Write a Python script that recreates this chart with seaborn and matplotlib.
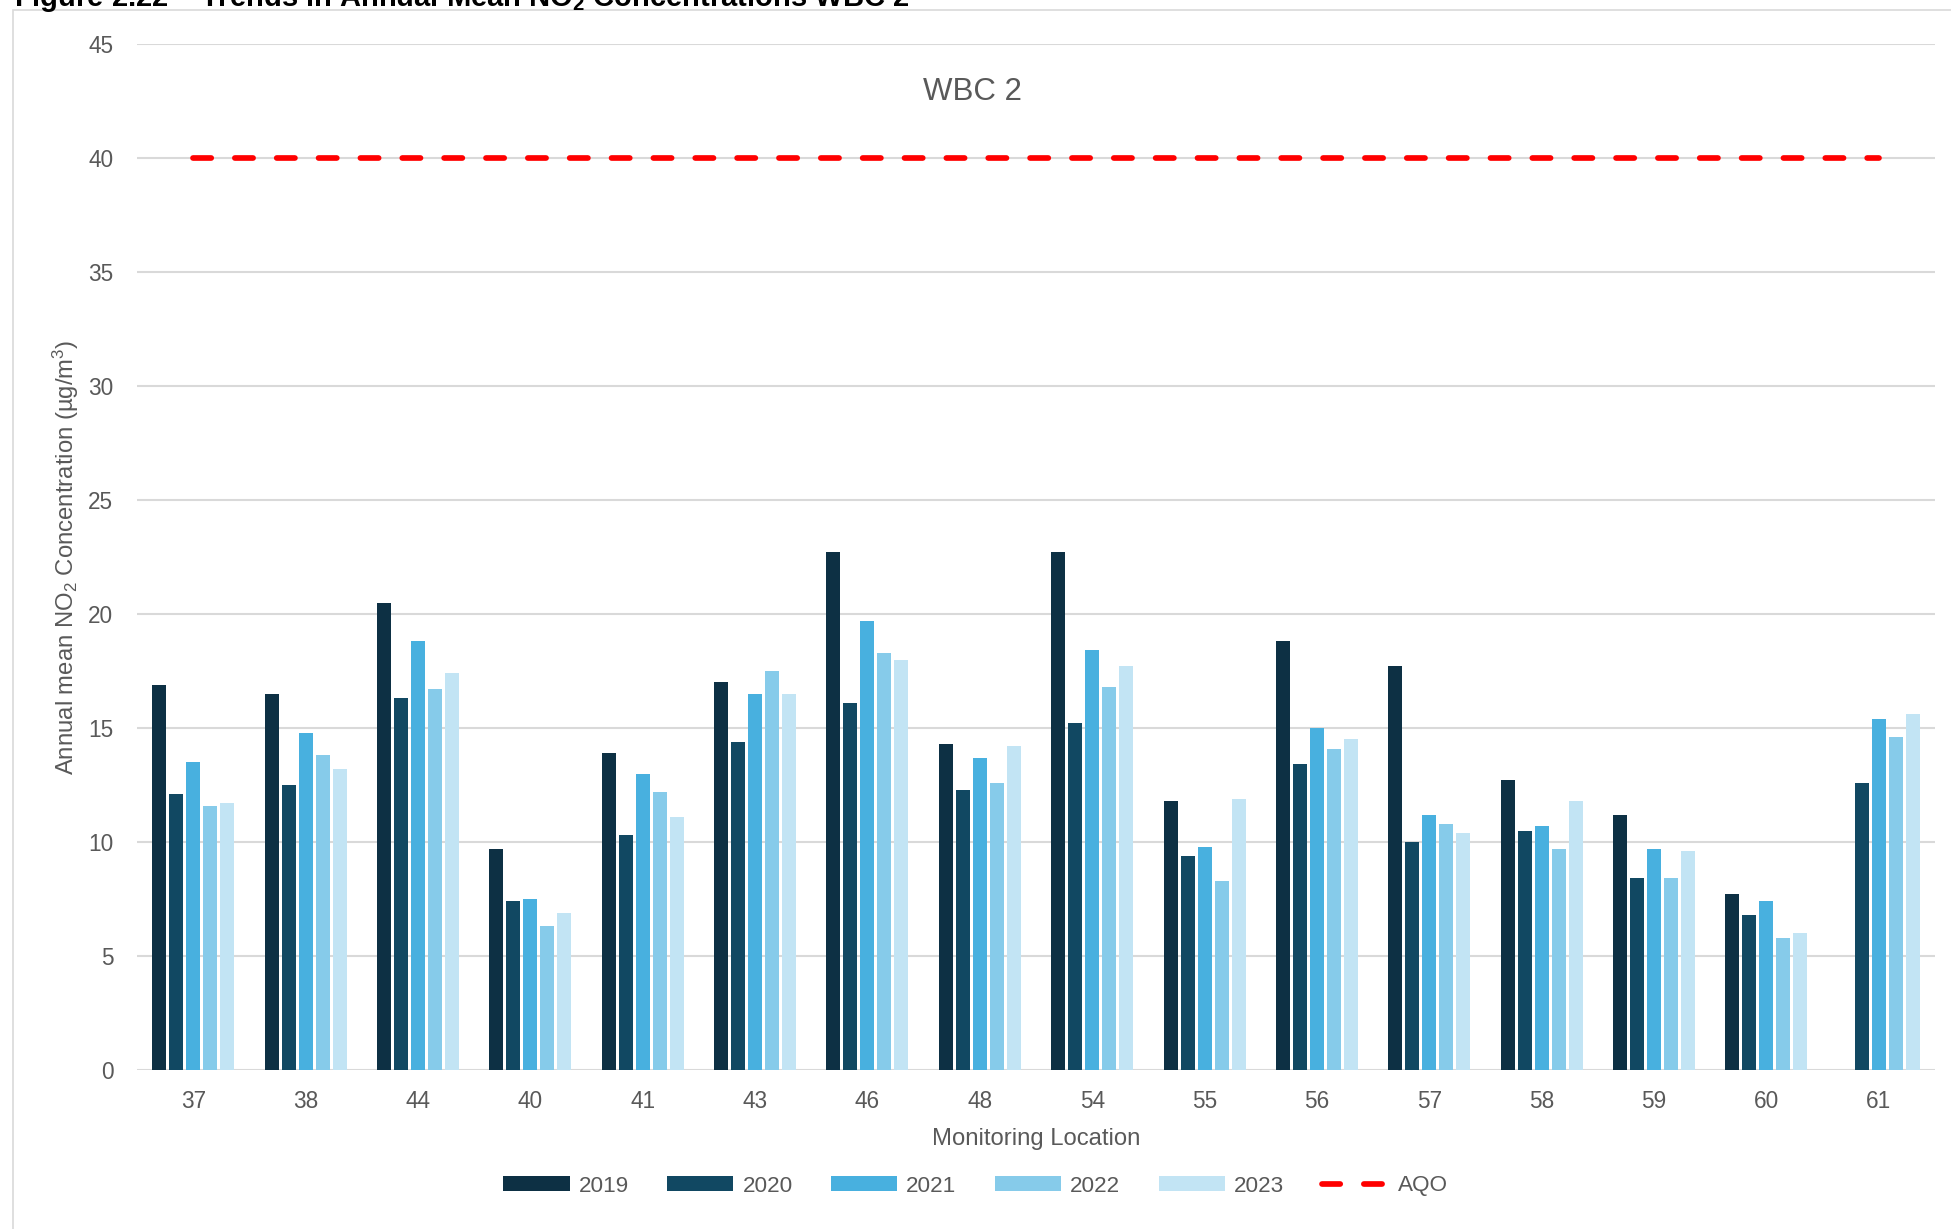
import numpy as np
import pandas as pd
import matplotlib
matplotlib.use("Agg")
import matplotlib.pyplot as plt
from matplotlib.patches import Rectangle
import seaborn as sns

# Monitoring locations (in plotted order) and survey years
locations = ["37", "38", "44", "40", "41", "43", "46", "48",
             "54", "55", "56", "57", "58", "59", "60", "61"]
years = ["2019", "2020", "2021", "2022", "2023"]

# Annual mean NO2 concentrations (µg/m3) per year
no2_2019 = [16.9, 16.5, 20.5, 9.7, 13.9, 17.0, 22.7, 14.3,
            22.7, 11.8, 18.8, 17.7, 12.7, 11.2, 7.7, np.nan]
no2_2020 = [12.1, 12.5, 16.3, 7.4, 10.3, 14.4, 16.1, 12.3,
            15.2, 9.4, 13.4, 10.0, 10.5, 8.4, 6.8, 12.6]
no2_2021 = [13.5, 14.8, 18.8, 7.5, 13.0, 16.5, 19.7, 13.7,
            18.4, 9.8, 15.0, 11.2, 10.7, 9.7, 7.4, 15.4]
no2_2022 = [11.6, 13.8, 16.7, 6.3, 12.2, 17.5, 18.3, 12.6,
            16.8, 8.3, 14.1, 10.8, 9.7, 8.4, 5.8, 14.6]
no2_2023 = [11.7, 13.2, 17.4, 6.9, 11.1, 16.5, 18.0, 14.2,
            17.7, 11.9, 14.5, 10.4, 11.8, 9.6, 6.0, 15.6]

# Air quality objective (annual mean NO2)
aqo = [40, 40, 40, 40, 40, 40, 40, 40,
       40, 40, 40, 40, 40, 40, 40, 40]

yticks = [0, 5, 10, 15, 20, 25, 30, 35, 40, 45]

year_colors = ["#0d3044", "#114862", "#48b0df", "#86cbea", "#c2e4f4"]

series = [no2_2019, no2_2020, no2_2021, no2_2022, no2_2023]
df = pd.DataFrame({
    "location": np.tile(locations, len(years)),
    "year": np.repeat(years, len(locations)),
    "value": np.concatenate([np.asarray(s, dtype=float) for s in series]),
})

sns.set_theme(style="white")
plt.rcParams["font.family"] = ["Liberation Sans", "DejaVu Sans"]
plt.rcParams["mathtext.fontset"] = "custom"
plt.rcParams["mathtext.rm"] = "Liberation Sans"
plt.rcParams["mathtext.it"] = "Liberation Sans:italic"
plt.rcParams["mathtext.bf"] = "Liberation Sans:bold"

text_grey = "#595959"
grid_grey = "#d9d9d9"

W, H = 1951, 1229
fig = plt.figure(figsize=(W / 100, H / 100), dpi=100)

# plot area in pixels: left 137, right 1935, top 44, bottom 1070
ax = fig.add_axes([137 / W, 1 - 1070 / H, (1935 - 137) / W, (1070 - 44) / H])

sns.barplot(data=df, x="location", y="value", hue="year",
            order=locations, hue_order=years, palette=year_colors,
            saturation=1, width=0.756, gap=0.18, errorbar=None,
            linewidth=0, ax=ax)

line, = ax.plot(np.arange(len(locations)), aqo, color="#ff0000", lw=4.1,
                linestyle=(0, (3.2, 4.15)), dash_capstyle="round",
                label="AQO", zorder=3)

ax.set_xlim(-0.5, len(locations) - 0.5)
ax.set_ylim(0, 45)
ax.set_yticks(yticks)
ax.set_axisbelow(True)
ax.yaxis.grid(True, color=grid_grey, lw=1.5)
ax.xaxis.grid(False)
for sp in ax.spines.values():
    sp.set_visible(False)

ax.tick_params(axis="y", length=0, pad=17, labelsize=16.3, labelcolor=text_grey)
ax.tick_params(axis="x", length=0, pad=14.5, labelsize=16.3, labelcolor=text_grey)

ax.set_xlabel("Monitoring Location", fontsize=17.2, color=text_grey, va="center")
ax.xaxis.set_label_coords(0.5, (1070 - 1139) / 1026)
ax.set_ylabel(r"Annual mean NO$_2$ Concentration (µg/m$^3$)", fontsize=17.2,
              color=text_grey, va="center")
ax.yaxis.set_label_coords((66 - 137) / 1798, 0.5)

handles, labels = ax.get_legend_handles_labels()
if ax.get_legend() is not None:
    ax.get_legend().remove()
fig.legend(handles, labels, loc="center", bbox_to_anchor=(0.5, 1 - 1186 / H),
           ncol=6, frameon=False, fontsize=16.2, handlelength=2.95,
           handleheight=0.62, handletextpad=0.4, columnspacing=1.7,
           labelcolor=text_grey)

fig.text(972 / W, 1 - 92 / H, "WBC 2", ha="center", va="center",
         fontsize=22.5, color=text_grey)

# chart frame
fig.patches.append(Rectangle((13 / W, -0.05), 1.2, (1 - 10 / H) + 0.05,
                             transform=fig.transFigure, fill=False,
                             edgecolor=grid_grey, lw=1.2, zorder=0))

# figure caption, running off the top edge
fig.text(14 / W, 1 - 6 / H,
         r"Figure 2.22 – Trends in Annual Mean NO$_\mathbf{2}$ Concentrations WBC 2",
         ha="left", va="baseline", fontsize=21, fontweight="bold", color="black")

fig.savefig("out.png", dpi=100)
